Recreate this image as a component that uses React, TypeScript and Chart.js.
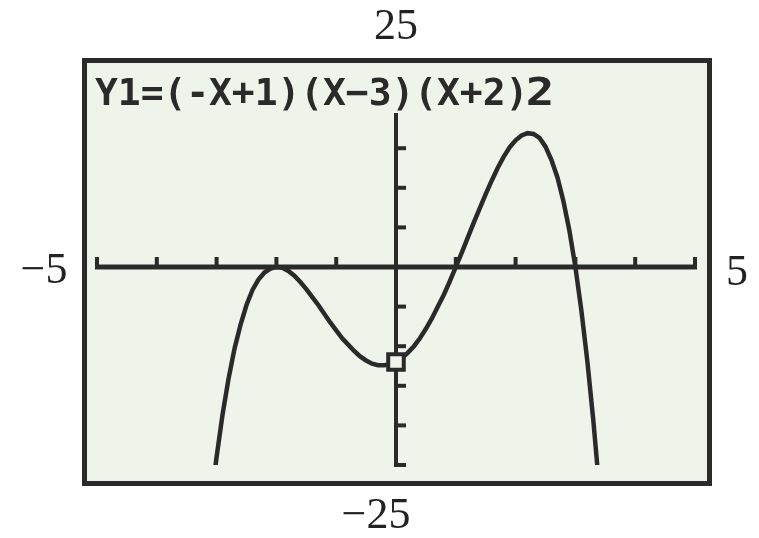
import { useEffect, useRef } from "react";
import { Chart, registerables } from "chart.js";

Chart.register(...registerables);

// Curve Y1 = (-X+1)(X-3)(X+2)^2
const xValues = [
  -3.05, -3.0, -2.9, -2.8, -2.7, -2.6, -2.5, -2.4, -2.3, -2.2, -2.1, -2.0,
  -1.9, -1.8, -1.7, -1.6, -1.5, -1.4, -1.3, -1.2, -1.1, -1.0, -0.9, -0.8,
  -0.7, -0.6, -0.5, -0.4, -0.3, -0.2, -0.1, 0.0, 0.1, 0.2, 0.3, 0.4, 0.5,
  0.6, 0.7, 0.8, 0.9, 1.0, 1.1, 1.2, 1.3, 1.4, 1.5, 1.6, 1.7, 1.8, 1.9, 2.0,
  2.1, 2.2, 2.3, 2.4, 2.5, 2.6, 2.7, 2.8, 2.9, 3.0, 3.1, 3.2, 3.3, 3.4,
];
const yValues = [
  -27.0, -24.0, -18.6, -14.1, -10.3, -7.3, -4.8, -2.9, -1.6, -0.7, -0.2, 0.0,
  -0.1, -0.5, -1.1, -1.9, -2.8, -3.8, -4.8, -5.9, -7.0, -8.0, -9.0, -9.8,
  -10.6, -11.3, -11.8, -12.2, -12.4, -12.4, -12.3, -12.0, -11.5, -10.8, -10.0,
  -9.0, -7.8, -6.5, -5.0, -3.5, -1.8, 0.0, 1.8, 3.7, 5.6, 7.4, 9.2, 10.9,
  12.5, 13.9, 15.1, 16.0, 16.6, 16.9, 16.8, 16.3, 15.2, 13.5, 11.3, 8.3, 4.6,
  0.0, -5.5, -11.9, -19.4, -28.0,
];
const cursorX = [0];
const cursorY = [-12];

const xTicks = [-5, -4, -3, -2, -1, 0, 1, 2, 3, 4, 5];
const yTicks = [-25, -20, -15, -10, -5, 0, 5, 10, 15, 20, 25];

const windowLabels = ["25", "−25", "−5", "5"]; // Ymax, Ymin, Xmin, Xmax
const equation = "Y1=(-X+1)(X−3)(X+2)²";

const INK = "#2a2a2a";
const SCREEN = "#eff4ea";

const calcPlugin = {
  id: "calcScreen",
  beforeDatasetsDraw(chart: any) {
    const ctx: CanvasRenderingContext2D = chart.ctx;
    const xs = chart.scales.x;
    const ys = chart.scales.y;
    const line = (a: number, b: number, c: number, d: number) => {
      ctx.beginPath();
      ctx.moveTo(a, b);
      ctx.lineTo(c, d);
      ctx.stroke();
    };
    ctx.save();
    // screen background
    ctx.fillStyle = SCREEN;
    ctx.fillRect(84, 60, 626, 424);

    const x0 = xs.getPixelForValue(0);
    const y0 = ys.getPixelForValue(0);
    ctx.strokeStyle = INK;
    ctx.lineCap = "butt";

    // axes
    ctx.lineWidth = 5;
    line(
      xs.getPixelForValue(xTicks[0]) - 2,
      y0,
      xs.getPixelForValue(xTicks[xTicks.length - 1]) + 2,
      y0
    );
    ctx.lineWidth = 4;
    line(x0, ys.getPixelForValue(yTicks[0]) + 2, x0, ys.getPixelForValue(yTicks[yTicks.length - 1]));

    // tick marks
    ctx.lineWidth = 4;
    xTicks.forEach((v) => {
      const px = xs.getPixelForValue(v);
      line(px, y0, px, y0 - 10);
    });
    yTicks.forEach((v) => {
      if (v === 0) return;
      const py = ys.getPixelForValue(v);
      line(x0, py, x0 + 10, py);
    });

    // text row clears the graph underneath
    ctx.fillStyle = SCREEN;
    ctx.fillRect(87, 63, 620, 50);

    // equation text in calculator font cells
    ctx.fillStyle = INK;
    ctx.textBaseline = "alphabetic";
    ctx.textAlign = "center";
    const chars = Array.from(equation);
    chars.forEach((ch, i) => {
      const cx = 97 + i * 22.8 + 9.5;
      if (ch === "²") {
        ctx.font = 'bold 68px "DejaVu Sans Mono"';
        const m = ctx.measureText(ch);
        const bottom = 105;
        const baseline = bottom + m.actualBoundingBoxDescent * -1;
        ctx.fillText(ch, cx, baseline + (0 - 0) );
        return;
      }
      ctx.font = 'bold 38px "DejaVu Sans Mono"';
      ctx.fillText(ch, cx, 105);
    });

    // screen border
    ctx.strokeStyle = INK;
    ctx.lineWidth = 5;
    ctx.strokeRect(84.5, 60.5, 625, 423);

    // window labels
    ctx.fillStyle = "#222";
    ctx.font = '44px "Liberation Serif"';
    ctx.textAlign = "center";
    ctx.fillText(windowLabels[0], 396, 39);
    ctx.fillText(windowLabels[1], 376, 528);
    ctx.fillText(windowLabels[2], 44, 283);
    ctx.fillText(windowLabels[3], 737, 285);
    ctx.restore();
  },
};

export default function App() {
  const ref = useRef<HTMLCanvasElement | null>(null);
  useEffect(() => {
    if (!ref.current) return;
    const chart = new Chart(ref.current, {
      type: "scatter",
      data: {
        datasets: [
          {
            label: "cursor",
            data: cursorX.map((x, i) => ({ x, y: cursorY[i] })),
            pointStyle: "rect",
            pointRadius: 11,
            pointBorderWidth: 4,
            pointBackgroundColor: SCREEN,
            pointBorderColor: INK,
            showLine: false,
          },
          {
            label: "Y1",
            data: xValues.map((x, i) => ({ x, y: yValues[i] })),
            showLine: true,
            borderColor: INK,
            borderWidth: 4.5,
            pointRadius: 0,
            tension: 0,
          },
        ],
      },
      options: {
        animation: false,
        responsive: false,
        devicePixelRatio: 1,
        layout: { padding: { left: 97, right: 64, top: 69, bottom: 73 } },
        plugins: { legend: { display: false }, tooltip: { enabled: false } },
        events: [],
        scales: {
          x: { type: "linear", min: -5, max: 5, display: false },
          y: { type: "linear", min: -25, max: 25, display: false },
        },
      },
      plugins: [calcPlugin],
    } as any);
    return () => chart.destroy();
  }, []);
  return (
    <div style={{ position: "fixed", left: 0, top: 0, width: 759, height: 538, background: "#fff" }}>
      <canvas ref={ref} width={759} height={538} style={{ width: 759, height: 538 }} />
    </div>
  );
}
